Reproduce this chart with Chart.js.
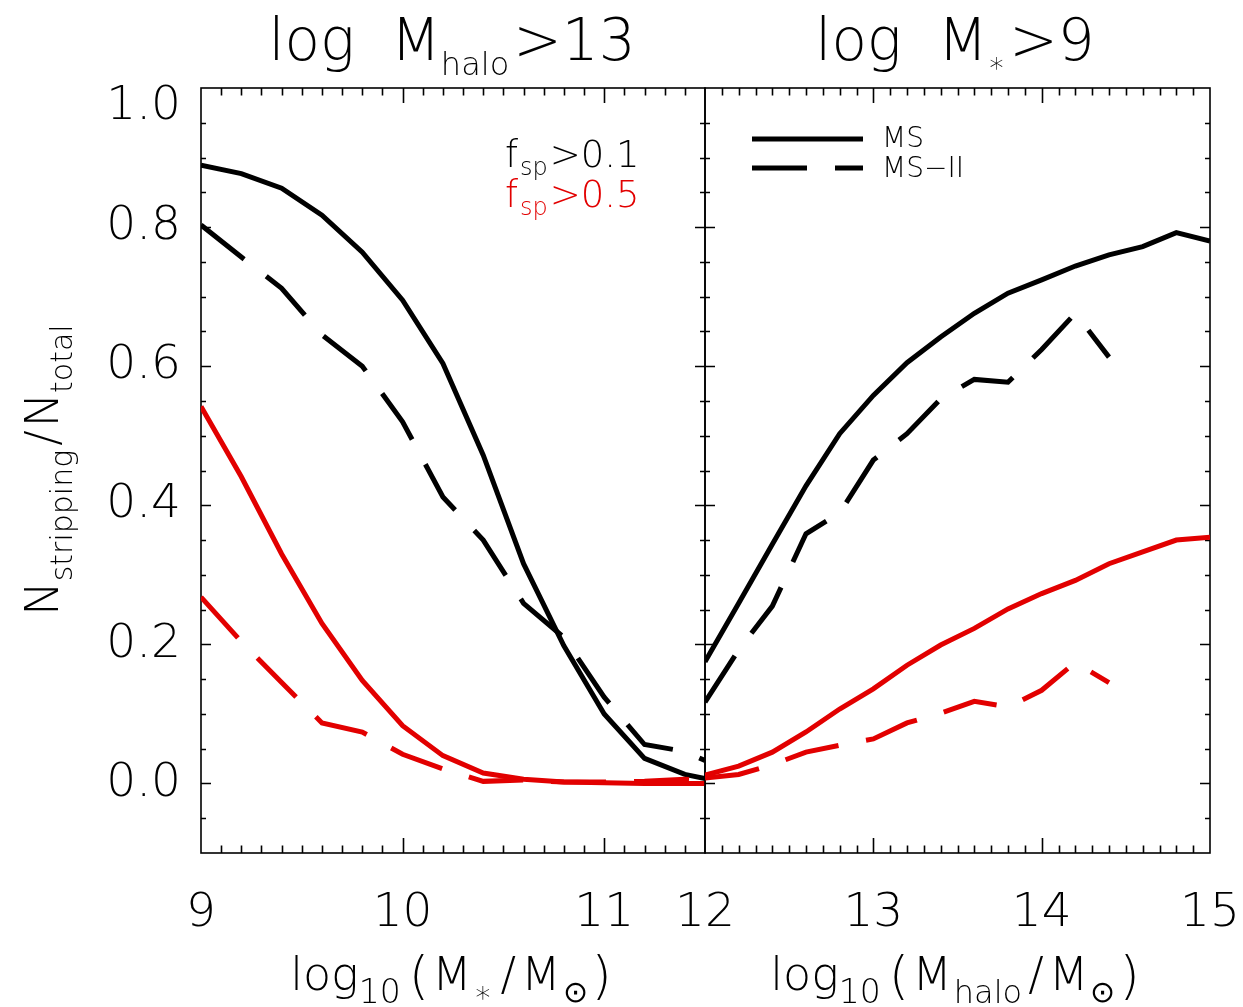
<!DOCTYPE html>
<html>
<head>
<meta charset="utf-8">
<script src="https://cdn.jsdelivr.net/npm/chart.js@4.4.1/dist/chart.umd.min.js"></script>
<style>
  html, body { margin: 0; padding: 0; background: #fff; }
  #wrap { position: relative; width: 1243px; height: 1007px; }
  #wrap canvas { position: absolute; left: 0; top: 0; }
</style>
</head>
<body>
<div id="wrap">
  <canvas id="left" width="1243" height="1007"></canvas>
  <canvas id="right" width="1243" height="1007"></canvas>
</div>
<script>
// left panel: log10(M*/Msun), haloes above 10^13
const xStellar = [9.0, 9.2, 9.4, 9.6, 9.8, 10.0, 10.2, 10.4, 10.6, 10.8, 11.0, 11.2, 11.4, 11.5];
const msStellarF01 = [0.889, 0.877, 0.856, 0.817, 0.764, 0.695, 0.604, 0.472, 0.316, 0.198, 0.100, 0.036, 0.013, 0.007];
const msiiStellarF01 = [0.803, 0.757, 0.712, 0.645, 0.600, 0.520, 0.412, 0.350, 0.259, 0.210, 0.124, 0.056, 0.046, 0.033];
const msStellarF05 = [0.542, 0.441, 0.330, 0.230, 0.148, 0.083, 0.040, 0.015, 0.006, 0.002, 0.001, 0.000, 0.000, 0.000];
const msiiStellarF05 = [0.268, 0.204, 0.145, 0.087, 0.074, 0.042, 0.021, 0.003, 0.005, 0.002, 0.002, 0.003, 0.006, 0.004];

// right panel: log10(Mhalo/Msun), galaxies above 10^9
const xHalo = [12.0, 12.2, 12.4, 12.6, 12.8, 13.0, 13.2, 13.4, 13.6, 13.8, 14.0, 14.2, 14.4, 14.6, 14.8, 15.0];
const msHaloF01 = [0.175, 0.259, 0.344, 0.428, 0.503, 0.558, 0.605, 0.642, 0.676, 0.705, 0.724, 0.744, 0.760, 0.772, 0.792, 0.780];
const msiiHaloF01 = [0.117, 0.192, 0.255, 0.359, 0.389, 0.465, 0.503, 0.553, 0.581, 0.577, 0.624, 0.676, 0.613];
const msHaloF05 = [0.012, 0.025, 0.045, 0.074, 0.107, 0.136, 0.170, 0.199, 0.223, 0.251, 0.273, 0.292, 0.316, 0.333, 0.350, 0.354];
const msiiHaloF05 = [0.008, 0.013, 0.027, 0.045, 0.055, 0.064, 0.087, 0.101, 0.118, 0.110, 0.134, 0.174, 0.145];

const xTicksStellar = [9, 10, 11];
const xTicksHalo = [12, 13, 14, 15];
const yTicks = [0, 0.2, 0.4, 0.6, 0.8, 1.0];

const FAMILY = '"DejaVu Sans", Lato, sans-serif';
const WEIGHT = 200;
const RED = '#e20000';
const DASH = [55, 28];
const font = (size) => `${WEIGHT} ${size}px ${FAMILY}`;

const toPoints = (xs, ys) => ys.map((y, i) => ({ x: xs[i], y }));

function series(xs, ys, color, dashed) {
  return {
    data: toPoints(xs, ys),
    borderColor: color,
    borderWidth: 5,
    borderDash: dashed ? DASH : [],
    pointRadius: 0,
    tension: 0,
    fill: false
  };
}

// draws a run of text pieces: [text, size, dy, extraGap, color]
function rich(ctx, parts, x, y, align) {
  let w = 0;
  parts.forEach(p => {
    ctx.font = font(p[1]);
    w += ctx.measureText(p[0]).width + (p[3] || 0);
  });
  let cx = align === 'left' ? x : x - w / 2;
  ctx.textBaseline = 'alphabetic';
  ctx.textAlign = 'left';
  parts.forEach(p => {
    ctx.font = font(p[1]);
    ctx.fillStyle = p[4] || '#000';
    ctx.fillText(p[0], cx, y + (p[2] || 0));
    cx += ctx.measureText(p[0]).width + (p[3] || 0);
  });
}

// box with inward ticks on all four sides
const frame = {
  id: 'frame',
  beforeDatasetsDraw(chart) {
    const { ctx, chartArea: a, scales: { x, y } } = chart;
    ctx.save();
    ctx.strokeStyle = '#000';
    ctx.lineWidth = 1.6;
    ctx.strokeRect(a.left, a.top, a.right - a.left, a.bottom - a.top);
    ctx.beginPath();
    const nx = Math.round((x.max - x.min) / 0.1);
    for (let i = 1; i < nx; i++) {
      const v = x.min + i * 0.1;
      const px = Math.round(x.getPixelForValue(v)) + 0.5;
      const len = Math.abs(v - Math.round(v)) < 1e-6 ? 15 : 7.5;
      ctx.moveTo(px, a.bottom); ctx.lineTo(px, a.bottom - len);
      ctx.moveTo(px, a.top); ctx.lineTo(px, a.top + len);
    }
    const ny = Math.round((y.max - y.min) / 0.05);
    for (let i = 1; i < ny; i++) {
      const v = y.min + i * 0.05;
      const py = Math.round(y.getPixelForValue(v)) + 0.5;
      const q = v / 0.2;
      const len = Math.abs(q - Math.round(q)) < 1e-6 ? 10 : 5;
      ctx.moveTo(a.left, py); ctx.lineTo(a.left + len, py);
      ctx.moveTo(a.right, py); ctx.lineTo(a.right - len, py);
    }
    ctx.stroke();
    ctx.restore();
  }
};

const leftText = {
  id: 'leftText',
  afterDraw(chart) {
    const ctx = chart.ctx;
    ctx.save();
    rich(ctx, [['log', 58, 0, 36], ['M', 58], ['halo', 32, 15, 4], ['>13', 58]], 452, 60);
    rich(ctx, [['log', 46], ['10', 33, 13, 8], ['(', 52, 3, 3], ['M', 46, 0, 2], ['\u2217', 30, 12, 8], ['/', 46, 0, 5], ['M', 46, 0, 2], ['\u2299', 30, 12, 4], [')', 52, 3]], 451, 990);
    rich(ctx, [['f', 37, 0, 2], ['sp', 24, 8, 2], ['>0.1', 37]], 505, 167, 'left');
    rich(ctx, [['f', 37, 0, 2, RED], ['sp', 24, 8, 2, RED], ['>0.5', 37, 0, 0, RED]], 505, 207, 'left');
    ctx.translate(58, 470);
    ctx.rotate(-Math.PI / 2);
    rich(ctx, [['N', 46], ['stripping', 30, 14, 4], ['/', 46, 0, 3], ['N', 46], ['total', 30, 14]], 0, 0);
    ctx.restore();
  }
};

const rightText = {
  id: 'rightText',
  afterDraw(chart) {
    const ctx = chart.ctx;
    ctx.save();
    rich(ctx, [['log', 58, 0, 36], ['M', 58], ['\u2217', 28, 12, 4], ['>9', 58]], 955, 60);
    rich(ctx, [['log', 46], ['10', 33, 13, 8], ['(', 52, 3, 3], ['M', 46, 0, 2], ['halo', 32, 13, 6], ['/', 46, 0, 5], ['M', 46, 0, 2], ['\u2299', 30, 12, 4], [')', 52, 3]], 955, 990);
    // legend
    ctx.strokeStyle = '#000';
    ctx.lineWidth = 5;
    ctx.beginPath(); ctx.moveTo(752, 139); ctx.lineTo(863, 139); ctx.stroke();
    ctx.setLineDash(DASH);
    ctx.beginPath(); ctx.moveTo(752, 168); ctx.lineTo(863, 168); ctx.stroke();
    ctx.setLineDash([]);
    rich(ctx, [['MS', 28]], 882, 147, 'left');
    rich(ctx, [['MS\u2212II', 28]], 882, 177, 'left');
    ctx.restore();
  }
};

const tickFont = { family: FAMILY, size: 47, weight: WEIGHT, lineHeight: 0.8 };

function xScale(min, max, ticks) {
  return {
    type: 'linear', position: 'bottom', min, max,
    afterBuildTicks: s => { s.ticks = ticks.map(v => ({ value: v })); },
    afterFit: s => { s.height = 154; s.paddingLeft = 0; s.paddingRight = 0; },
    grid: { display: false, drawTicks: false },
    border: { display: false },
    ticks: { font: tickFont, color: '#000', padding: 42, maxRotation: 0, autoSkip: false, callback: v => String(v) }
  };
}

Chart.defaults.animation = false;

new Chart(document.getElementById('left'), {
  type: 'line',
  data: {
    datasets: [
      series(xStellar, msStellarF05, RED, false),
      series(xStellar, msiiStellarF05, RED, true),
      series(xStellar, msStellarF01, '#000', false),
      series(xStellar, msiiStellarF01, '#000', true)
    ]
  },
  options: {
    responsive: false,
    devicePixelRatio: 1,
    layout: { padding: { left: 0, top: 88, right: 538, bottom: 0 } },
    plugins: { legend: { display: false }, tooltip: { enabled: false } },
    scales: {
      x: xScale(9, 11.5, xTicksStellar),
      y: {
        type: 'linear', min: -0.1, max: 1.0,
        afterBuildTicks: s => { s.ticks = yTicks.map(v => ({ value: v })); },
        afterFit: s => { s.width = 201; },
        grid: { display: false, drawTicks: false },
        border: { display: false },
        ticks: { font: tickFont, color: '#000', padding: 20, callback: v => v === 1 ? ['', '1.0'] : v.toFixed(1) }
      }
    }
  },
  plugins: [frame, leftText]
});

new Chart(document.getElementById('right'), {
  type: 'line',
  data: {
    datasets: [
      series(xHalo, msHaloF05, RED, false),
      series(xHalo, msiiHaloF05, RED, true),
      series(xHalo, msHaloF01, '#000', false),
      series(xHalo, msiiHaloF01, '#000', true)
    ]
  },
  options: {
    responsive: false,
    devicePixelRatio: 1,
    layout: { padding: { left: 705, top: 88, right: 33, bottom: 0 } },
    plugins: { legend: { display: false }, tooltip: { enabled: false } },
    scales: {
      x: xScale(12, 15, xTicksHalo),
      y: { type: 'linear', min: -0.1, max: 1.0, display: false }
    }
  },
  plugins: [frame, rightText]
});
</script>
</body>
</html>
